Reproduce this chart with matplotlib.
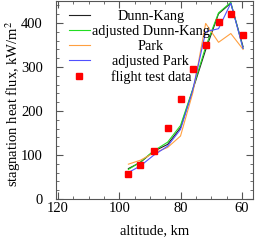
import numpy as np
import matplotlib
matplotlib.use('Agg')
from matplotlib import pyplot as plt
from matplotlib.ticker import MultipleLocator

plt.rcParams['font.family'] = ['Liberation Serif', 'DejaVu Serif']
plt.rcParams['mathtext.fontset'] = 'stix'

# altitude points, km
alt = [97.0, 93.1, 88.8, 84.2, 80.0, 76.0, 71.8, 67.6, 63.6, 59.6]

# stagnation heat flux, kW/m^2
dunn_kang = [69, 83, 108, 124, 162, 248, 339, 421, 445, 346]
adj_dunn_kang = [67, 84, 109, 129, 167, 250, 346, 423, 447, 342]
park = [79, 88, 104, 117, 143, 241, 399, 356, 376, 340]
adj_park = [60, 75, 99, 120, 158, 248, 380, 387, 445, 342]
flight = [56, 78, 108, 162, 227, 295, 349, 403, 420, 373]

fig = plt.figure(figsize=(2.57, 2.42), dpi=100)
ax = fig.add_axes([0.218, 0.178, 0.766, 0.818])

ax.plot(alt, dunn_kang, color='#222222', lw=0.8, label='Dunn-Kang')
ax.plot(alt, adj_dunn_kang, color='#22dd22', lw=0.8, label='adjusted Dunn-Kang')
ax.plot(alt, park, color='#ffa040', lw=0.8, label='Park')
ax.plot(alt, adj_park, color='#5050ff', lw=0.8, label='adjusted Park')
ax.plot(alt, flight, ls='none', marker='s', ms=4.2, color='red', mec='red',
        label='flight test data')

ax.set_xlim(120.6, 56.4)
ax.set_ylim(0, 450)
ax.xaxis.set_major_locator(MultipleLocator(20))
ax.xaxis.set_minor_locator(MultipleLocator(5))
ax.yaxis.set_major_locator(MultipleLocator(100))
ax.yaxis.set_minor_locator(MultipleLocator(20))
ax.tick_params(which='both', direction='in', top=True, right=True,
               labelsize=10.5, color='#555555')
ax.tick_params(which='major', length=5, width=0.8)
ax.tick_params(which='minor', length=2.5, width=0.6)
ax.tick_params(axis='x', which='major', pad=2.5)
ax.tick_params(axis='y', which='major', pad=9.5)
for s in ax.spines.values():
    s.set_color('#555555')
    s.set_linewidth(0.8)

ax.set_xlabel('altitude, km', fontsize=10.5, labelpad=6)
ax.set_ylabel('stagnation heat flux, kW/m$^2$', fontsize=10.5)
ax.yaxis.set_label_coords(-0.17, 0.48)

leg = ax.legend(loc='upper left', frameon=False, fontsize=10.2,
                labelspacing=0.14, handlelength=1.45, handletextpad=0.15,
                borderaxespad=0.25, bbox_to_anchor=(0.02, 1.0))

# center the legend texts on a common column
fig.canvas.draw()
ws = [t.get_window_extent().width for t in leg.get_texts()]
mw = max(ws)
for t, w in zip(leg.get_texts(), ws):
    t.set_position(((mw - w) / 2, 0))

fig.savefig('out.png', dpi=100)
